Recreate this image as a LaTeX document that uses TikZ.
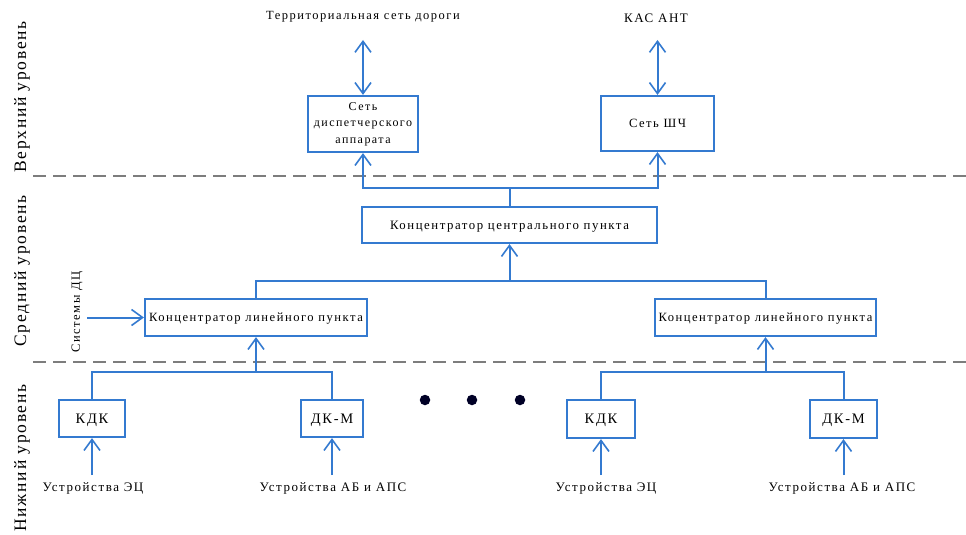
\documentclass[tikz,border=0pt]{standalone}
\usepackage{fontspec}
\setmainfont{Liberation Serif}
\newfontfamily\boxfont[LetterSpace=12]{Liberation Serif}
\newfontfamily\sidefont[LetterSpace=10]{Liberation Serif}
\usetikzlibrary{arrows.meta}
\definecolor{linkblue}{RGB}{52,122,208}
\definecolor{boundgray}{RGB}{125,125,125}
\newcommand{\fs}[1]{\boxfont\fontsize{#1}{#1}\selectfont}
\newcommand{\fsl}[2]{\boxfont\fontsize{#1}{#2}\selectfont}
\begin{document}
\begin{tikzpicture}[x=1pt,y=-1pt,
  blk/.style={draw=linkblue,line width=2.2pt,fill=white,inner sep=0pt,
    align=center,font=\fs{12.6}},
  oneline/.style={text depth=0pt},
  lbl/.style={inner sep=1pt,font=\fs{13}},
  link/.style={draw=linkblue,line width=2pt},
  barb/.tip={Straight Barb[length=11pt,width=16pt,line width=1.6pt]},
  arr/.style={link,-barb},
  darr/.style={link,barb-barb},
  bound/.style={draw=boundgray,line width=1.6pt,dash pattern=on 13pt off 7pt},
  side/.style={rotate=90,font=\sidefont\fontsize{17.5}{18}\selectfont,inner sep=0pt},
  dot/.style={circle,fill=black!85!blue,inner sep=0pt,minimum size=10.5pt}]
\useasboundingbox (0,0) rectangle (966,535);

% level boundaries
\draw[bound] (33,176) -- (966,176);
\draw[bound] (33,362) -- (966,362);

% level captions
\node[side] (lvtop) at (22,97) {Верхний уровень};
\node[side] (lvmid) at (22,271) {Средний уровень};
\node[side] (lvbot) at (22,458) {Нижний уровень};

% upper level
\node[blk,minimum width=110pt,minimum height=56pt,font=\fsl{12}{16.5}] (disp) at (363,124)
  {\rule{0pt}{8pt}Сеть\\диспетчерского\\аппарата};
\node[blk,oneline,minimum width=113pt,minimum height=55pt] (shch) at (657.5,123.5) {Сеть ШЧ};
\node[lbl,font=\fs{12.5}] (terr) at (363,17) {Территориальная сеть дороги};
\node[lbl] (kas) at (656,18) {КАС АНТ};
\coordinate (terrend) at (363,40);
\coordinate (kasend) at (657.5,40);
\draw[darr] (terrend) -- (disp.north);
\draw[darr] (kasend) -- (shch.north);

% middle level
\node[blk,oneline,minimum width=295pt,minimum height=36pt,font=\fs{12.8}] (cent) at (509.5,225)
  {Концентратор центрального пункта};
\node[blk,oneline,minimum width=222pt,minimum height=37pt] (lcon) at (256,317.5)
  {Концентратор линейного пункта};
\node[blk,oneline,minimum width=221pt,minimum height=37pt] (rcon) at (765.5,317.5)
  {Концентратор линейного пункта};
\node[side,font=\fs{12.5}] (dcs) at (77,312) {Системы ДЦ};
\coordinate (dcsend) at (87,317.5);
\draw[arr] (dcsend) -- (lcon.west);

\coordinate (jtop) at (509.5,188);
\draw[link] (cent.north) -- (jtop);
\draw[arr] (jtop) -| (disp.south);
\draw[arr] (jtop) -| (shch.south);

\coordinate (jmid) at (509.5,281);
\draw[link] (lcon.north) |- (jmid) -| (rcon.north);
\draw[arr] (jmid) -- (cent.south);

% lower level
\node[blk,oneline,minimum width=66pt,minimum height=37pt,font=\fs{14.5}] (kdka) at (92,418.5) {КДК};
\node[blk,oneline,minimum width=62pt,minimum height=37pt,font=\fs{14.5}] (dkma) at (332,418.5) {ДК-М};
\node[blk,oneline,minimum width=68pt,minimum height=38pt,font=\fs{14.5}] (kdkb) at (601,419) {КДК};
\node[blk,oneline,minimum width=67pt,minimum height=38pt,font=\fs{14.5}] (dkmb) at (843.5,419) {ДК-М};

\coordinate (jlowa) at (256,372);
\coordinate (jlowb) at (765.5,372);
\draw[link] (kdka.north) |- (jlowa) -| (dkma.north);
\draw[link] (kdkb.north) |- (jlowb) -| (dkmb.north);
\draw[arr] (jlowa) -- (lcon.south);
\draw[arr] (jlowb) -- (rcon.south);

\node[lbl] (eca) at (93,488) {Устройства ЭЦ};
\node[lbl] (aba) at (333,488) {Устройства АБ и АПС};
\node[lbl] (ecb) at (606,488) {Устройства ЭЦ};
\node[lbl] (abb) at (842,488) {Устройства АБ и АПС};
\coordinate (eca0) at (92,475);
\coordinate (aba0) at (332,475);
\coordinate (ecb0) at (601,475);
\coordinate (abb0) at (843.5,475);
\draw[arr] (eca0) -- (kdka.south);
\draw[arr] (aba0) -- (dkma.south);
\draw[arr] (ecb0) -- (kdkb.south);
\draw[arr] (abb0) -- (dkmb.south);

% ellipsis between the groups
\node[dot] (dota) at (425,400) {};
\node[dot] (dotb) at (472,400) {};
\node[dot] (dotc) at (520,400) {};
\end{tikzpicture}
\end{document}
